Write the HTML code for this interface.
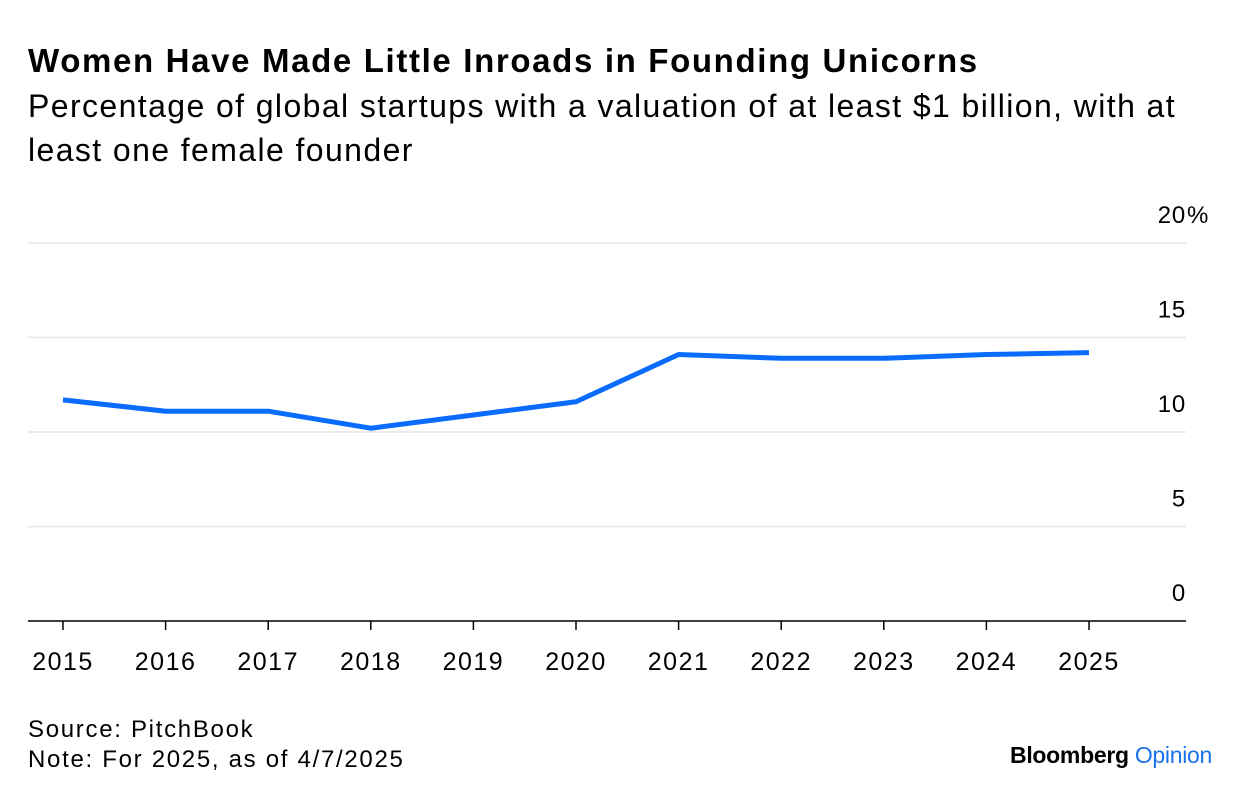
<!DOCTYPE html>
<html><head><meta charset="utf-8"><style>
body{margin:0;width:1240px;height:800px;background:#fff;font-family:"Liberation Sans",sans-serif;color:#000;overflow:hidden}
.t{position:absolute;left:28px;top:42px;font-size:33px;font-weight:bold;letter-spacing:1.65px;white-space:nowrap}
.s{position:absolute;left:28px;top:84px;font-size:32px;line-height:44px;width:1195px;letter-spacing:1.4px}
.f{position:absolute;left:28px;font-size:24px;letter-spacing:1.7px;white-space:nowrap}
</style></head><body>
<div class="t">Women Have Made Little Inroads in Founding Unicorns</div>
<div class="s">Percentage of global startups with a valuation of at least $1 billion, with at<br>least one female founder</div>
<svg id="c" width="1240" height="800" style="position:absolute;left:0;top:0"></svg>
<div class="f" style="top:716px">Source: PitchBook</div>
<div class="f" style="top:746px">Note: For 2025, as of 4/7/2025</div>
<div style="position:absolute;right:28px;top:742px;font-size:23px;font-weight:bold;letter-spacing:-0.3px">Bloomberg <span style="color:#1a73e8;font-weight:normal">Opinion</span></div>
<script>
const years=[2015,2016,2017,2018,2019,2020,2021,2022,2023,2024,2025];
const values=[11.7,11.1,11.1,10.2,10.9,11.6,14.1,13.9,13.9,14.1,14.2];
const yTicks=[0,5,10,15,20];
const yTickLabels=["0","5","10","15","20"];
const ns="http://www.w3.org/2000/svg";
const svg=document.getElementById('c');
const x=i=>63+i*102.6;
const y=v=>621-v*18.9;
function mk(t,a){const e=document.createElementNS(ns,t);for(const k in a)e.setAttribute(k,a[k]);svg.appendChild(e);return e;}
yTicks.forEach((v,i)=>{
 if(v>0){const g=mk('line',{x1:28,x2:1186,y1:y(v),y2:y(v),stroke:'#ebebeb','stroke-width':2});
 
 }
 const t=mk('text',{x:1186,y:y(v)-20,'text-anchor':'end','font-size':24,'font-family':'Liberation Sans','letter-spacing':0.8});
 t.textContent=yTickLabels[i];
 
 
 if(i===yTicks.length-1){const pc=mk('text',{x:1187,y:y(v)-20,'font-size':24,'font-family':'Liberation Sans'});
 pc.textContent='%';
 
 }
});
const ax=mk('line',{x1:28,x2:1186,y1:621,y2:621,stroke:'#000','stroke-width':1.5});


years.forEach((yr,i)=>{
 const tk=mk('line',{x1:x(i),x2:x(i),y1:621,y2:630,stroke:'#000','stroke-width':1.5});
 
 
 const t=mk('text',{x:x(i),y:670,'text-anchor':'middle','font-size':25,'font-family':'Liberation Sans','letter-spacing':1.5});
 t.textContent=yr;
 
 
});
const p=mk('polyline',{points:values.map((v,i)=>x(i)+','+y(v)).join(' '),fill:'none',stroke:'#0a6cff','stroke-width':5,'stroke-linejoin':'round'});


</script>
</body></html>
